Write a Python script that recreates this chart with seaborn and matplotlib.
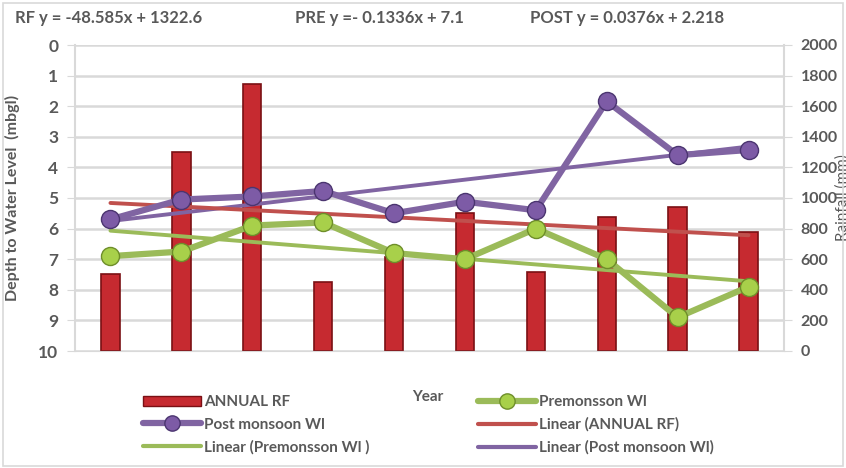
import numpy as np
import pandas as pd
import matplotlib
matplotlib.use("Agg")
import matplotlib.pyplot as plt
import seaborn as sns
from matplotlib.lines import Line2D
from matplotlib.patches import Patch, Rectangle

# Datos
years = ["2011", "2012", "2013", "2014", "2015", "2016", "2017", "2018", "2019", "2020"]
annual_rf = [500, 1300, 1745, 450, 615, 900, 515, 875, 940, 780]
pre_wl = [6.9, 6.75, 5.9, 5.8, 6.8, 7.0, 6.0, 7.0, 8.9, 7.9]
post_wl = [5.7, 5.05, 4.95, 4.77, 5.5, 5.12, 5.4, 1.84, 3.6, 3.43]

eq_rf = "RF y = -48.585x + 1322.6"
eq_pre = "PRE y =- 0.1336x + 7.1"
eq_post = "POST y = 0.0376x + 2.218"

gray = "#595959"
red = "#C62A30"
red_edge = "#7A1014"
green = "#9BBB59"
purple = "#8064A2"
red_trend = "#C0504D"

sns.set_style("white")
plt.rcParams['font.family'] = ['Lato', 'DejaVu Sans']
plt.rcParams['font.weight'] = 'bold'
fs = 11

df = pd.DataFrame({"Year": years, "RF": annual_rf, "PRE": pre_wl, "POST": post_wl})
df["pos"] = np.arange(len(years))

fig = plt.figure(figsize=(8.46, 4.68), dpi=100)
fig.patches.append(Rectangle((0.003, 0.004), 0.994, 0.99, transform=fig.transFigure,
                             fill=False, edgecolor="#D9D9D9", lw=1.2))
ax = fig.add_axes([75/846, 1-351/468, (784-75)/846, (351-45)/468])
ax2 = ax.twinx()

# Barras de lluvia (eje derecho)
sns.barplot(data=df, x="Year", y="RF", ax=ax2, color=red, width=0.26,
            edgecolor=red_edge, linewidth=1.2, saturation=1)
ax2.set_ylim(0, 2000)
ax2.set_yticks(np.arange(0, 2001, 200))
ax2.yaxis.grid(True, color="#D9D9D9", lw=1.8)
ax2.set_axisbelow(True)

# Lineas de nivel (eje izquierdo, invertido) por encima de las barras
ax.set_zorder(ax2.get_zorder() + 1)
ax.patch.set_visible(False)
x = df["pos"].values

# Lineas de tendencia
c_pre = np.polyfit(x, df["PRE"], 1)
c_post = np.polyfit(x, df["POST"], 1)
c_rf = np.polyfit(x, df["RF"], 1)
ax.plot(x, np.polyval(c_pre, x), color=green, lw=2.8, zorder=1)
ax.plot(x, np.polyval(c_post, x), color=purple, lw=2.8, zorder=1)
# tendencia de lluvia pasada a la escala del eje izquierdo (2000 mm = 0, 0 mm = 10)
ax.plot(x, 10 - np.polyval(c_rf, x) / 200, color=red_trend, lw=2.8, zorder=1)

sns.lineplot(x=x, y=df["PRE"], ax=ax, color=green, lw=4.5, marker="o", markersize=13,
             markerfacecolor="#A8D04A", markeredgecolor="#6E8E2A", markeredgewidth=1, zorder=3)
sns.lineplot(x=x, y=df["POST"], ax=ax, color=purple, lw=4.5, marker="o", markersize=13,
             markerfacecolor="#7D5BA6", markeredgecolor="#4B3570", markeredgewidth=1, zorder=3)

ax.set_ylim(10, 0)
ax.set_yticks(range(0, 11))
ax.set_xlim(-0.5, 9.5)

for a in (ax, ax2):
    for s in a.spines.values():
        s.set_visible(False)
ax.spines["left"].set_visible(True)
ax.spines["left"].set_color("#D9D9D9")
ax.spines["left"].set_linewidth(1.5)
ax2.spines["right"].set_visible(True)
ax2.spines["right"].set_color("#D9D9D9")
ax2.spines["right"].set_linewidth(1.5)
ax2.spines["bottom"].set_visible(True)
ax2.spines["bottom"].set_color("#D9D9D9")

ax.tick_params(axis="y", left=True, length=6, color="#D9D9D9", labelsize=12.5, labelcolor=gray, pad=6)
ax2.tick_params(axis="y", right=True, length=6, color="#D9D9D9", labelsize=11.5, labelcolor=gray, pad=6)
ax2.tick_params(axis="x", bottom=False, labelsize=11.5, labelcolor=gray, pad=6)
ax.tick_params(axis="x", bottom=False, labelbottom=False)
for t in ax.get_yticklabels() + ax2.get_yticklabels() + ax2.get_xticklabels():
    t.set_fontweight("bold")
ax.set_xlabel("")
ax2.set_xlabel("")
ax.set_ylabel("Depth to Water Level  (mbgl)", fontsize=11.5, color=gray, fontweight="bold")
ax.yaxis.set_label_coords(-0.078, 0.5)
ax2.set_ylabel("Rainfall (mm)", fontsize=11, color=gray, fontweight="normal")
ax2.yaxis.set_label_coords(1.073, 0.5)

fig.text(428/846, 1-397/468, "Year", fontsize=fs, color=gray, ha="center", va="center",
         fontweight="bold")

for xx, txt in [(15, eq_rf), (295, eq_pre), (530, eq_post)]:
    fig.text(xx/846, 1-18/468, txt, fontsize=12, color=gray, va="center", fontweight="bold")

handles1 = [
    Patch(facecolor=red, edgecolor=red_edge),
    Line2D([], [], color=purple, lw=4.5, marker="o", markersize=11,
           markerfacecolor="#7D5BA6", markeredgecolor="#4B3570"),
    Line2D([], [], color=green, lw=3),
]
labels1 = ["ANNUAL RF", "Post monsoon Wl", "Linear (Premonsson Wl )"]
handles2 = [
    Line2D([], [], color=green, lw=4.5, marker="o", markersize=11,
           markerfacecolor="#A8D04A", markeredgecolor="#6E8E2A"),
    Line2D([], [], color=red_trend, lw=3),
    Line2D([], [], color=purple, lw=3),
]
labels2 = ["Premonsson Wl", "Linear (ANNUAL RF)", "Linear (Post monsoon Wl)"]
leg_kw = dict(loc="center left", frameon=False, handlelength=3.8, labelspacing=0.55,
              handletextpad=0.2, borderpad=0, borderaxespad=0,
              prop={"size": fs, "weight": "bold"}, labelcolor=gray)
leg1 = fig.legend(handles1, labels1, bbox_to_anchor=(143/846, 1-425/468), **leg_kw)
leg2 = fig.legend(handles2, labels2, bbox_to_anchor=(478/846, 1-425/468), **leg_kw)

fig.savefig("out.png", dpi=100)
